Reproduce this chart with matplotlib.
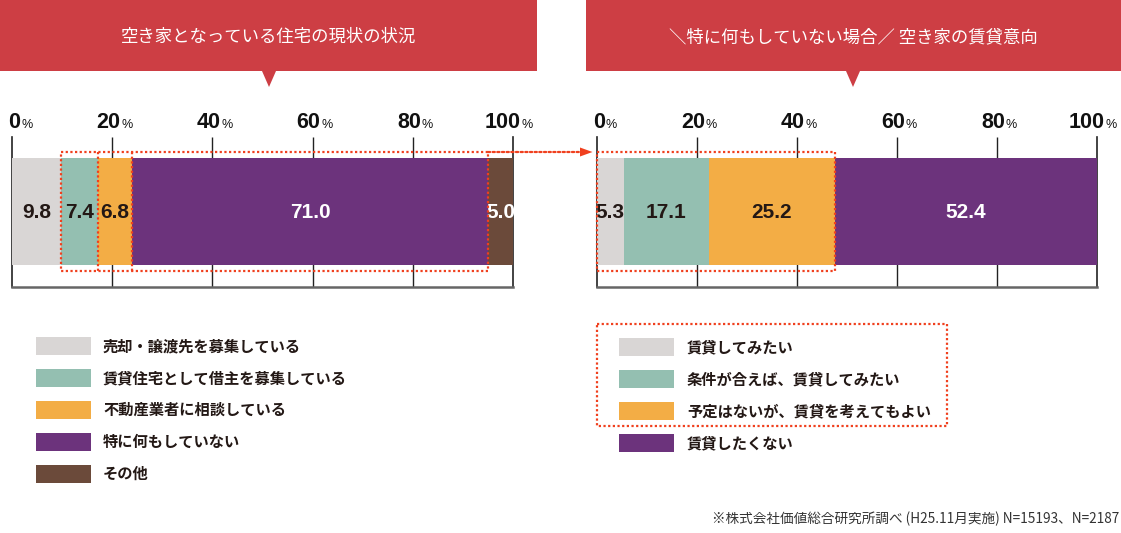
import numpy as np
import matplotlib
matplotlib.use("Agg")
import matplotlib.pyplot as plt
from matplotlib.patches import Rectangle, Polygon, ConnectionPatch

W, H = 1121, 533
JP = ["Noto Sans CJK JP", "DejaVu Sans"]
NUM = ["Liberation Sans", "DejaVu Sans"]

RED = "#cd3e44"
DOT = "#f0401e"
INK = "#231815"
GRAY, TEAL, ORANGE, PURPLE, BROWN = "#d9d6d5", "#94bfb1", "#f3ad45", "#6c337c", "#6b4a3a"

# ---- datos ----
left_title = "空き家となっている住宅の現状の状況"
left_labels = ["売却・譲渡先を募集している", "賃貸住宅として借主を募集している",
               "不動産業者に相談している", "特に何もしていない", "その他"]
left_values = [9.8, 7.4, 6.8, 71.0, 5.0]
left_colors = [GRAY, TEAL, ORANGE, PURPLE, BROWN]
left_text = [INK, INK, INK, "white", "white"]

right_title = "＼特に何もしていない場合／ 空き家の賃貸意向"
right_labels = ["賃貸してみたい", "条件が合えば、賃貸してみたい",
                "予定はないが、賃貸を考えてもよい", "賃貸したくない"]
right_values = [5.3, 17.1, 25.2, 52.4]
right_colors = [GRAY, TEAL, ORANGE, PURPLE]
right_text = [INK, INK, INK, "white"]

ticks = [0, 20, 40, 60, 80, 100]
footnote = "※株式会社価値総合研究所調べ (H25.11月実施) N=15193、N=2187"

fig = plt.figure(figsize=(W / 100, H / 100), dpi=100)
fig.patch.set_facecolor("white")

# capa de fondo en pixeles
ax0 = fig.add_axes([0, 0, 1, 1])
ax0.set_xlim(0, W); ax0.set_ylim(H, 0); ax0.axis("off")

# cintas rojas con pico
for x0, x1, xp, title in [(0, 537, 269, left_title), (586, W, 853, right_title)]:
    ax0.add_patch(Polygon([(x0, 0), (x1, 0), (x1, 71), (xp + 7, 71), (xp, 87),
                           (xp - 7, 71), (x0, 71)], closed=True, fc=RED, ec="none"))
    ax0.text(xp, 37, title, color="white", fontsize=12.5, ha="center", va="center",
             family=JP)

# ---- barras ----
Y0, Y1 = 137, 287          # alto del eje en pixeles
BAR_Y, BAR_H = 211.5, 107


def panel(x0, x1, values, colors, tcolors):
    ax = fig.add_axes([x0 / W, (H - Y1) / H, (x1 - x0) / W, (Y1 - Y0) / H])
    ax.set_facecolor("none")
    ax.set_xlim(0, 100); ax.set_ylim(Y1, Y0)
    lefts = np.concatenate([[0], np.cumsum(values)[:-1]])
    ax.barh([BAR_Y], values, left=lefts, height=BAR_H, color=colors, zorder=3)
    for l, v, tc in zip(lefts, values, tcolors):
        ax.text(l + v / 2, BAR_Y + 1, f"{v:.1f}", color=tc, fontsize=15,
                fontweight="bold", family=NUM, ha="center", va="center", zorder=4)
    ax.vlines(ticks[1:-1], Y0, Y1, color="#222", lw=1.0, zorder=1)
    ax.set_xticks([]); ax.set_yticks([])
    ax.spines["top"].set_visible(False)
    for s in ["left", "right"]:
        ax.spines[s].set_color("#222"); ax.spines[s].set_linewidth(1.2)
    ax.spines["bottom"].set_color("#666"); ax.spines["bottom"].set_linewidth(1.8)
    for t in ticks:
        ax.annotate(str(t), xy=(t, 128), xytext=(8, 0), textcoords="offset pixels",
                    ha="right", va="baseline", fontsize=15.5, fontweight="bold",
                    family=NUM, color="#111", annotation_clip=False)
        ax.annotate("%", xy=(t, 128), xytext=(9, 0), textcoords="offset pixels",
                    ha="left", va="baseline", fontsize=9, family=NUM,
                    color="#111", annotation_clip=False)
    return ax, np.cumsum(values)


axL, cumL = panel(12, 513, left_values, left_colors, left_text)
axR, cumR = panel(597, 1097, right_values, right_colors, right_text)

dot = dict(ec=DOT, fill=False, lw=1.6, ls=(0, (1, 1.1)), zorder=5, clip_on=False)
BY0, BY1 = 152, 271
axL.add_patch(Rectangle((cumL[0], BY0), cumL[3] - cumL[0], BY1 - BY0, **dot))
axL.vlines(cumL[1:3], BY0, BY1, colors=DOT, lw=1.6, linestyles=[(0, (1, 1.1))],
           zorder=5, clip_on=False)
axR.add_patch(Rectangle((0, BY0), cumR[2], BY1 - BY0, **dot))

# flecha punteada entre paneles
con = ConnectionPatch(xyA=(cumL[3], BY0), coordsA=axL.transData,
                      xyB=(-3.2, BY0), coordsB=axR.transData,
                      color=DOT, lw=1.6, ls=(0, (1, 1.1)), zorder=6)
fig.add_artist(con)
axR.add_patch(Polygon([(-3.4, BY0 - 4.5), (-3.4, BY0 + 4.5), (-0.9, BY0)],
                      closed=True, fc=DOT, ec="none", clip_on=False, zorder=6))

# ---- leyendas ----
for i, (lab, col) in enumerate(zip(left_labels, left_colors)):
    cy = 346 + 32 * i
    ax0.add_patch(Rectangle((36, cy - 9), 55, 18, fc=col, ec="none"))
    ax0.text(103, cy, lab, fontsize=11, fontweight="bold", color=INK,
             ha="left", va="center", family=JP)

for i, (lab, col) in enumerate(zip(right_labels, right_colors)):
    cy = 347 + 32 * i
    ax0.add_patch(Rectangle((619, cy - 9), 55, 18, fc=col, ec="none"))
    ax0.text(687, cy, lab, fontsize=11, fontweight="bold", color=INK,
             ha="left", va="center", family=JP)
ax0.add_patch(Rectangle((597, 324), 350, 102, **dot))

ax0.text(1119, 519, footnote, fontsize=9.8, color="#333", ha="right", va="center",
         family=JP)

fig.savefig("out.png", dpi=100, facecolor="white")
